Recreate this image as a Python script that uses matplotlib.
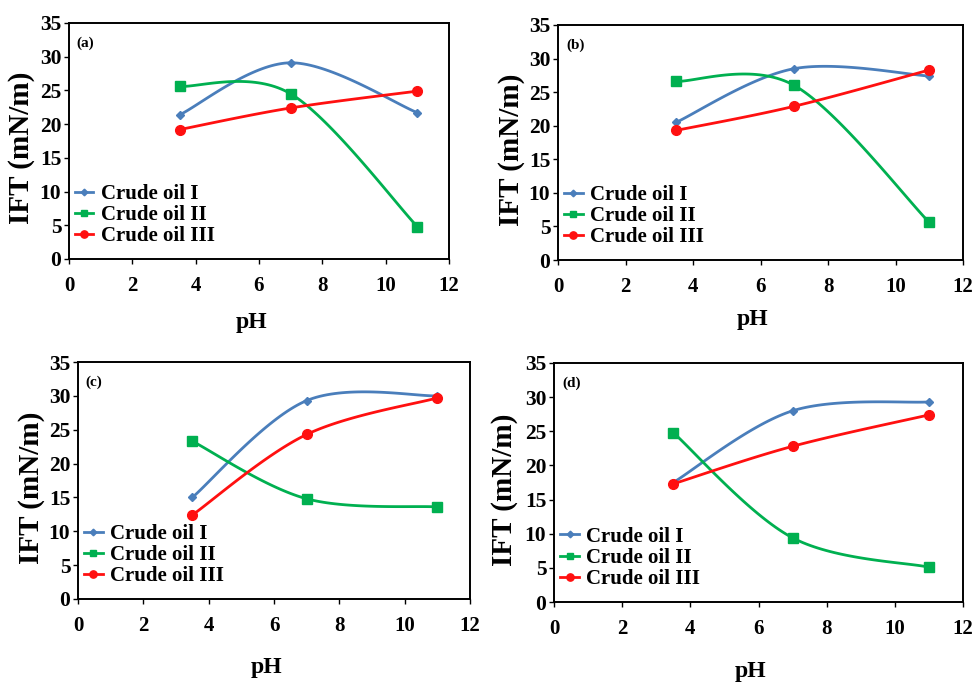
import numpy as np
import matplotlib
matplotlib.use("Agg")
import matplotlib.pyplot as plt

plt.rcParams['font.family'] = ['Liberation Serif', 'DejaVu Serif']
plt.rcParams['font.weight'] = 'bold'

ph = [3.5, 7, 11]
series_names = ["Crude oil I", "Crude oil II", "Crude oil III"]
panel_labels = ["(a)", "(b)", "(c)", "(d)"]

a_I = [21.4, 29.1, 21.7]
a_II = [25.6, 24.5, 4.8]
a_III = [19.2, 22.4, 24.9]

b_I = [20.5, 28.5, 27.4]
b_II = [26.6, 26.0, 5.6]
b_III = [19.3, 22.9, 28.3]

c_I = [15.0, 29.3, 30.0]
c_II = [23.3, 14.8, 13.6]
c_III = [12.4, 24.3, 29.7]

d_I = [17.5, 28.0, 29.3]
d_II = [24.8, 9.4, 5.1]
d_III = [17.3, 22.8, 27.4]

panels = [(a_I, a_II, a_III), (b_I, b_II, b_III), (c_I, c_II, c_III), (d_I, d_II, d_III)]

xticks = [0, 2, 4, 6, 8, 10, 12]
yticks = [0, 5, 10, 15, 20, 25, 30, 35]

colors = ["#4A7EBB", "#00B050", "#FF1010"]
markers = ["D", "s", "o"]
msizes = [4.5, 6.5, 7]

# axes rectangles (figure fraction)
rects = [
    [69/974, 1-259/686, 380/974, 236/686],
    [558/974, 1-260/686, 405/974, 235/686],
    [78/974, 1-599/686, 392/974, 237/686],
    [554/974, 1-602/686, 409/974, 239/686],
]
ylabel_x = [-0.125, -0.115, -0.118, -0.12]
xlabel_y = [-0.225, -0.21, -0.245, -0.245]

fig = plt.figure(figsize=(9.74, 6.86), dpi=100)


def smooth(ax, x, y, n=40):
    # Excel-like smoothed line (Catmull-Rom Bezier) in display space
    bb = ax.get_position()
    W = bb.width * 974
    H = bb.height * 686
    P = np.column_stack([np.asarray(x) / 12 * W, np.asarray(y) / 35 * H])
    Pe = np.vstack([P[0], P, P[-1]])
    out = []
    t = np.linspace(0, 1, n)[:, None]
    for i in range(len(P) - 1):
        p0, p3 = Pe[i + 1], Pe[i + 2]
        c1 = p0 + (Pe[i + 2] - Pe[i]) / 6
        c2 = p3 - (Pe[i + 3] - Pe[i + 1]) / 6
        seg = (1 - t) ** 3 * p0 + 3 * (1 - t) ** 2 * t * c1 + 3 * (1 - t) * t ** 2 * c2 + t ** 3 * p3
        out.append(seg)
    out = np.vstack(out)
    return out[:, 0] / W * 12, out[:, 1] / H * 35


for k, (rect, data) in enumerate(zip(rects, panels)):
    ax = fig.add_axes(rect)
    ax.set_xlim(0, 12)
    ax.set_ylim(0, 35)
    handles = []
    for j, ys in enumerate(data):
        sx, sy = smooth(ax, ph, ys)
        ax.plot(sx, sy, color=colors[j], lw=2.0, zorder=2)
        ax.plot(ph, ys, linestyle='none', marker=markers[j], ms=msizes[j],
                color=colors[j], zorder=3)
        h, = ax.plot([], [], color=colors[j], lw=2.0, marker=markers[j],
                     ms=msizes[j] * 0.75, label=series_names[j])
        handles.append(h)
    ax.set_xticks(xticks)
    ax.set_yticks(yticks)
    ax.set_xticklabels([str(v) for v in xticks], fontsize=15, fontweight='bold')
    ax.set_yticklabels([str(v) for v in yticks], fontsize=15.5, fontweight='bold')
    ax.tick_params(axis='x', direction='out', length=3.5, width=1, pad=9)
    ax.tick_params(axis='y', direction='out', length=3.5, width=1, pad=2)
    for s in ax.spines.values():
        s.set_linewidth(1.4)
        s.set_color('black')
    ax.set_ylabel("IFT (mN/m)", fontsize=21, fontweight='bold')
    ax.yaxis.label.set_va('center')
    ax.yaxis.set_label_coords(ylabel_x[k], 0.47)
    ax.set_xlabel("pH", fontsize=17, fontweight='bold', va='top')
    ax.xaxis.set_label_coords(0.48, xlabel_y[k])
    ax.text(0.02, 0.915, panel_labels[k], transform=ax.transAxes, fontsize=11,
            fontweight='bold', va='center', ha='left')
    ax.legend(handles=handles, loc='lower left', bbox_to_anchor=(0.015, 0.055),
              frameon=False, handlelength=0.9, handletextpad=0.35,
              labelspacing=0.05, borderaxespad=0, borderpad=0,
              prop={'family': 'Liberation Serif', 'weight': 'bold', 'size': 15})

fig.savefig("out.png", dpi=100)
